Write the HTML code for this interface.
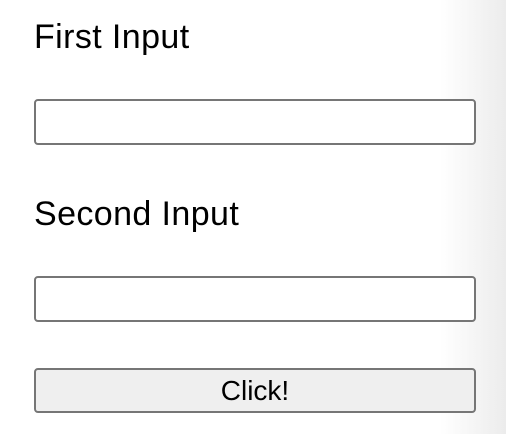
<!DOCTYPE html>
<html><head><style>
html,body{margin:0;padding:0;width:506px;height:434px;overflow:hidden;background:#fff;}
.g{position:absolute;left:440px;top:0;width:66px;height:434px;background:linear-gradient(to right,rgba(235,235,235,0),#ececec);}
.l{position:absolute;left:34px;font:34px "Liberation Sans",sans-serif;letter-spacing:0.4px;color:#000;line-height:36px;}
.i{position:absolute;left:34px;width:438px;height:42px;border:2px solid #767676;border-radius:4px;background:#fff;}
.b{position:absolute;left:34px;top:368px;width:438px;height:41px;border:2px solid #767676;border-radius:4px;background:#efefef;font:28px "Liberation Sans",sans-serif;text-align:center;line-height:41px;color:#000;}
</style></head><body>
<div class="g"></div>
<div class="l" style="top:19px">First Input</div>
<div class="i" style="top:99px"></div>
<div class="l" style="top:196px">Second Input</div>
<div class="i" style="top:276px"></div>
<div class="b">Click!</div>
</body></html>
